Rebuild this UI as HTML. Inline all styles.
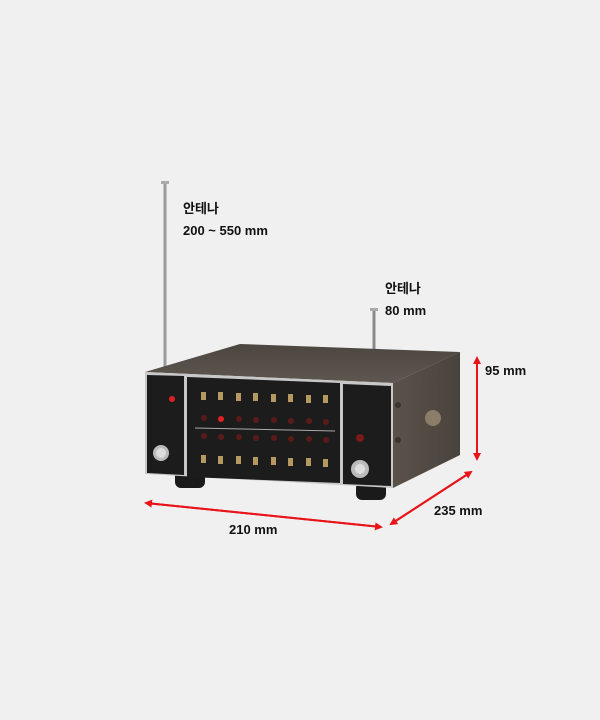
<!DOCTYPE html>
<html><head><meta charset="utf-8"><style>
html,body{margin:0;padding:0;background:#f0f0f0;}
svg{display:block}
text{font-family:"Liberation Sans","Noto Sans CJK KR",sans-serif;font-weight:bold;font-size:13px;fill:#111}
</style></head><body>
<svg width="600" height="720" viewBox="0 0 600 720" xmlns="http://www.w3.org/2000/svg">
<rect width="600" height="720" fill="#f0f0f0"/>
<defs>
<marker id="ah" markerWidth="8" markerHeight="8" refX="6" refY="4" orient="auto" markerUnits="userSpaceOnUse"><path d="M0,0 L8,4 L0,8 Z" fill="#e8141a"/></marker>
<linearGradient id="side" x1="0" x2="1"><stop offset="0" stop-color="#5a524a"/><stop offset="1" stop-color="#4a433d"/></linearGradient>
<linearGradient id="top" x1="0" y1="0" x2="0" y2="1"><stop offset="0" stop-color="#4c4640"/><stop offset="1" stop-color="#5e5750"/></linearGradient>
</defs>
<!-- antennas -->
<rect x="163.5" y="184" width="3" height="190" fill="#9a9a9a"/>
<rect x="161" y="181" width="8" height="3" fill="#aaa"/>
<rect x="372.5" y="310" width="3" height="45" fill="#8a8a8a"/>
<rect x="370" y="308" width="8" height="3" fill="#aaa"/>
<!-- box -->
<polygon points="145,372 240,344 460,352 393,383" fill="url(#top)"/>
<polygon points="393,383 460,352 460,455 393,488" fill="url(#side)"/>
<circle cx="433" cy="418" r="8" fill="#8a7e6a"/>
<circle cx="398" cy="405" r="3" fill="#3a3430"/><circle cx="398" cy="440" r="3" fill="#3a3430"/>
<!-- feet -->
<rect x="175" y="470" width="30" height="18" rx="6" fill="#1a1a1a"/>
<rect x="356" y="482" width="30" height="18" rx="6" fill="#1a1a1a"/>
<!-- front -->
<polygon points="145,372 393,383 393,488 145,474" fill="#c8c8c8"/>
<polygon points="147,375 184,376 184,475 147,473" fill="#1c1c1c"/>
<polygon points="187,377 340,383 340,483 187,477" fill="#1c1c1c"/>
<polygon points="343,384 391,386 391,486 343,484" fill="#1c1c1c"/>
<!-- knobs -->
<circle cx="161" cy="453" r="8" fill="#bbb"/><circle cx="161" cy="453" r="5" fill="#ddd"/>
<circle cx="360" cy="469" r="9" fill="#bbb"/><circle cx="360" cy="469" r="5" fill="#ddd"/>
<circle cx="360" cy="438" r="4" fill="#7a1a1a"/>
<circle cx="172" cy="399" r="3" fill="#e02020"/>
<!-- switches row -->
<g fill="#b49a60">
<rect x="201" y="392" width="5" height="8"/><rect x="218" y="392" width="5" height="8"/><rect x="236" y="393" width="5" height="8"/><rect x="253" y="393" width="5" height="8"/><rect x="271" y="394" width="5" height="8"/><rect x="288" y="394" width="5" height="8"/><rect x="306" y="395" width="5" height="8"/><rect x="323" y="395" width="5" height="8"/>
<rect x="201" y="455" width="5" height="8"/><rect x="218" y="456" width="5" height="8"/><rect x="236" y="456" width="5" height="8"/><rect x="253" y="457" width="5" height="8"/><rect x="271" y="457" width="5" height="8"/><rect x="288" y="458" width="5" height="8"/><rect x="306" y="458" width="5" height="8"/><rect x="323" y="459" width="5" height="8"/>
</g>
<g fill="#5a1a1a">
<circle cx="204" cy="418" r="3"/><circle cx="221" cy="419" r="3"/><circle cx="239" cy="419" r="3"/><circle cx="256" cy="420" r="3"/><circle cx="274" cy="420" r="3"/><circle cx="291" cy="421" r="3"/><circle cx="309" cy="421" r="3"/><circle cx="326" cy="422" r="3"/>
<circle cx="204" cy="436" r="3"/><circle cx="221" cy="437" r="3"/><circle cx="239" cy="437" r="3"/><circle cx="256" cy="438" r="3"/><circle cx="274" cy="438" r="3"/><circle cx="291" cy="439" r="3"/><circle cx="309" cy="439" r="3"/><circle cx="326" cy="440" r="3"/>
</g>
<circle cx="221" cy="419" r="3" fill="#e02020"/>
<line x1="195" y1="428" x2="335" y2="431" stroke="#aaa" stroke-width="1"/>
<!-- arrows -->
<line x1="477" y1="358" x2="477" y2="459" stroke="#e8141a" stroke-width="2" marker-end="url(#ah)"/>
<line x1="477" y1="459" x2="477" y2="358" stroke="#e8141a" stroke-width="2" marker-end="url(#ah)"/>
<line x1="146" y1="503" x2="381" y2="527" stroke="#e8141a" stroke-width="2" marker-end="url(#ah)"/>
<line x1="381" y1="527" x2="146" y2="503" stroke="#e8141a" stroke-width="2" marker-end="url(#ah)"/>
<line x1="391" y1="524" x2="471" y2="472" stroke="#e8141a" stroke-width="2" marker-end="url(#ah)"/>
<line x1="471" y1="472" x2="391" y2="524" stroke="#e8141a" stroke-width="2" marker-end="url(#ah)"/>
<!-- labels -->
<text x="183" y="213">안테나</text>
<text x="183" y="235">200 ~ 550 mm</text>
<text x="385" y="293">안테나</text>
<text x="385" y="315">80 mm</text>
<text x="485" y="375">95 mm</text>
<text x="229" y="534">210 mm</text>
<text x="434" y="515">235 mm</text>
</svg>
</body></html>
